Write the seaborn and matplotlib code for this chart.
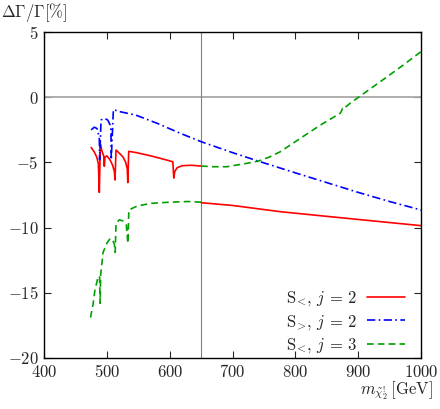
import matplotlib
matplotlib.use('Agg')
import matplotlib.pyplot as plt
import seaborn as sns
import numpy as np
import pandas as pd

# S<, j=2 (red): left of the 650 GeV line and right of it
red_left_x=[475, 480, 484, 486.5, 488, 489.7, 492, 495, 496, 497, 500, 505, 509, 512, 513, 514.6, 520, 526, 530, 532.5, 533.3, 534.8, 547, 570, 590, 605, 606.5, 608, 612, 620, 635, 650]
red_left_y=[-3.85, -4.2, -4.6, -5.1, -7.3, -3.6, -4.1, -4.5, -5.3, -4.6, -4.5, -4.8, -5.2, -5.7, -6.35, -4.05, -4.3, -4.6, -5.0, -5.5, -6.55, -4.15, -4.25, -4.5, -4.75, -4.95, -6.2, -5.7, -5.4, -5.25, -5.22, -5.28]
red_right_x=[650, 700, 776, 882, 1000]
red_right_y=[-8.09, -8.3, -8.78, -9.29, -9.85]

# S>, j=2 (blue)
blue_x=[475, 480, 484.4, 487, 488, 488.5, 490.8, 496, 501.4, 505, 506.5, 507, 510.4, 520, 546, 580, 616, 650, 700, 741, 800, 850, 900, 950, 1000]
blue_y=[-2.5, -2.3, -2.4, -2.9, -3.1, -4.8, -1.75, -1.62, -1.75, -2.1, -2.5, -4.8, -0.95, -1.1, -1.37, -2.0, -2.75, -3.41, -4.25, -4.9, -5.8, -6.55, -7.3, -8.0, -8.65]

# S<, j=3 (green)
green_left_x=[474, 478, 481, 485, 487, 488.5, 489.3, 490.2, 494, 500, 505, 509, 512, 513.3, 514.6, 520, 526, 531, 533.5, 535, 548, 570, 600, 630, 650]
green_left_y=[-16.9, -15.9, -14.8, -14.0, -13.7, -13.8, -15.8, -13.6, -11.9, -11.2, -10.85, -10.9, -11.3, -11.9, -9.67, -9.4, -9.5, -9.8, -11.2, -8.65, -8.35, -8.14, -8.05, -8.0, -8.05]
green_right_x=[650, 670, 691, 723, 741, 758, 776, 808, 840, 871, 873, 875, 878, 880, 887, 900.5, 935, 967, 1000]
green_right_y=[-5.28, -5.33, -5.33, -5.07, -4.9, -4.6, -4.18, -3.15, -2.13, -1.24, -1.1, -0.85, -0.9, -0.75, -0.47, 0.0, 1.19, 2.3, 3.5]

labels=[r'$\mathrm{S}_{\!<\!},\, j\,=\,2$', r'$\mathrm{S}_{\!>\!},\, j\,=\,2$', r'$\mathrm{S}_{\!<\!},\, j\,=\,3$']
xticks=[400, 500, 600, 700, 800, 900, 1000]
yticks=[5, 0, -5, -10, -15, -20]

sns.set_style('ticks')
plt.rcParams['mathtext.fontset']='cm'
plt.rcParams['font.family']='DejaVu Serif'

fig=plt.figure(figsize=(4.4, 4.09), dpi=100)
ax=fig.add_axes([0.1, 0.1247, 0.857, 0.797])

ax.axhline(0, color='#a8a8a8', lw=1.3, zorder=1)
ax.axvline(650, color='#808080', lw=0.8, zorder=1)

segs=[(red_left_x, red_left_y, '#ff0000', '-', labels[0]),
      (red_right_x, red_right_y, '#ff0000', '-', None),
      (blue_x, blue_y, '#0000ff', (0, (5, 2, 1, 2)), labels[1]),
      (green_left_x, green_left_y, '#00a000', (0, (4, 2.5)), labels[2]),
      (green_right_x, green_right_y, '#00a000', (0, (4, 2.5)), None)]
for xs, ys, c, ls, lab in segs:
    df=pd.DataFrame({'x': xs, 'y': ys})
    sns.lineplot(data=df, x='x', y='y', sort=False, estimator=None, color=c,
                 linestyle=ls, lw=1.2, label=lab, ax=ax, legend=False)

ax.set_xlim(400, 1000)
ax.set_ylim(-20, 5)
ax.set_xticks(xticks)
ax.set_xticklabels(['$%d$' % v for v in xticks], fontsize=12)
ax.set_yticks(yticks)
ax.set_yticklabels(['$%d$' % v for v in yticks], fontsize=12)
ax.tick_params(direction='in', length=5, width=0.8, top=True, right=True, pad=4)
ax.set_xlabel('')
ax.set_ylabel('')
for s in ax.spines.values():
    s.set_linewidth(1.0)
    s.set_color('black')

handles, labs=ax.get_legend_handles_labels()
ax.legend(handles, labs, loc='lower right', bbox_to_anchor=(0.975, -0.012),
          frameon=False, markerfirst=False, fontsize=12, handlelength=2.3,
          labelspacing=0.28, borderaxespad=0.0, handletextpad=0.6)

fig.text(0.003, 0.97, r'$\Delta\Gamma/\Gamma[\%]$', fontsize=12, va='center', ha='left')
fig.text(0.985, 0.045, r'$m_{\tilde{\chi}_2^{!}}\,[\mathrm{GeV}]$', fontsize=12, va='center', ha='right')

fig.savefig('out.png', dpi=100)
